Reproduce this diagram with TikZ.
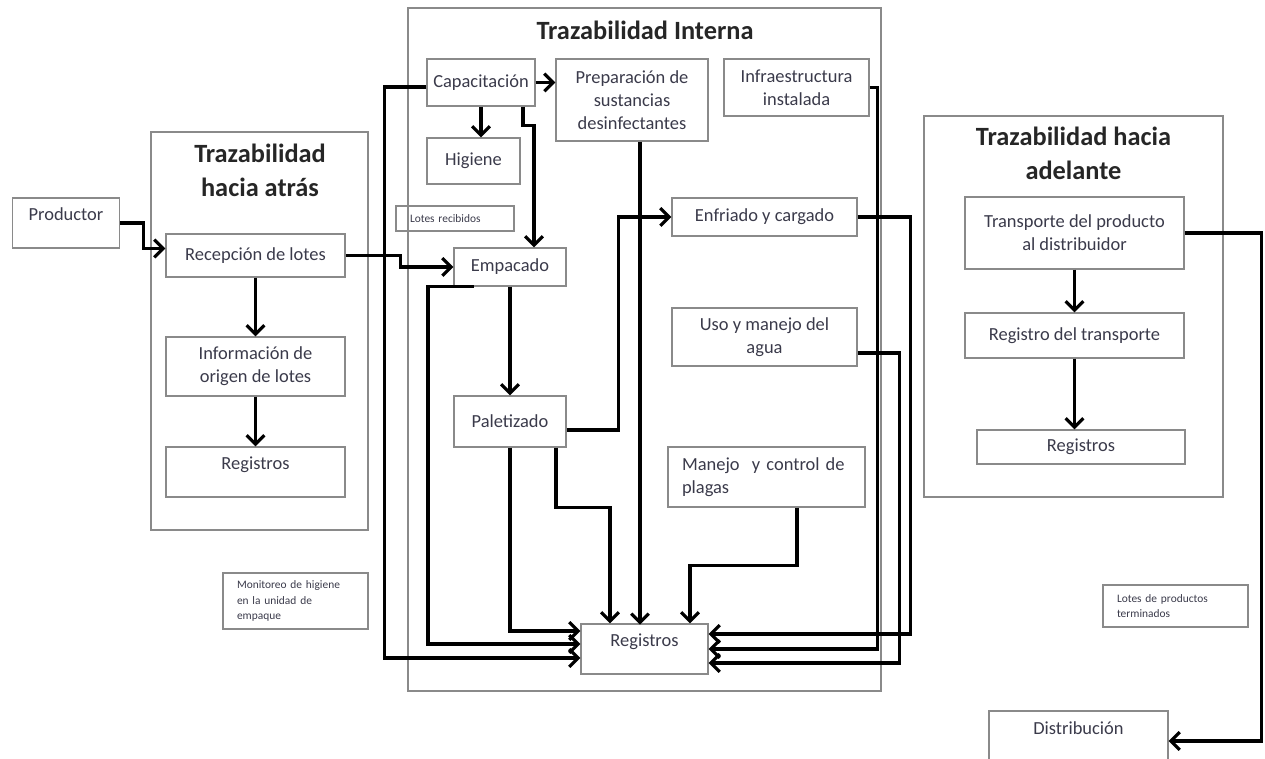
\documentclass[tikz,border=0pt]{standalone}
\usepackage{fontspec}
\setmainfont{Carlito}
\usetikzlibrary{arrows.meta,calc}
\definecolor{boxgray}{HTML}{8A8A8A}
\definecolor{txt}{HTML}{3A3A4A}

\begin{document}
\begin{tikzpicture}
  [x=0.02cm,y=-0.02cm,
   frame/.style={draw=boxgray,line width=0.9pt},
   box/.style={draw=boxgray,line width=0.8pt,text=txt,align=center,inner sep=1pt,
     font=\fontsize{10.5}{13}\selectfont},
   tiny/.style={box,align=left,inner xsep=0.28cm,font=\fontsize{6.5}{8.6}\selectfont},
   title/.style={align=center,text=black!85,font=\fontsize{15}{19}\selectfont\bfseries},
   wh/.style 2 args={minimum width=#1*0.02cm,minimum height=#2*0.02cm},
   textup/.style={text depth=#1},
   flow/.style={line width=1.8pt,-{Straight Barb[length=5pt,width=10pt]}}]
  \useasboundingbox (0,0) rectangle (1265,759);
  \clip (0,0) rectangle (1265,759);

  % hacia atras
  \node[box,wh={107}{50},textup=10pt] (prod) at (66,223) {Productor};
  \draw[frame] (151,132) rectangle (368,530);
  \node[title] (tAtras) at (260,170.5) {Trazabilidad\\hacia atrás};
  \node[box,wh={179}{43}] (recep) at (255.5,255.5) {Recepción de lotes};
  \node[box,wh={179}{59}] (info) at (255.5,366.5) {Información de\\origen de lotes};
  \node[box,wh={179}{50},textup=10pt] (regA) at (255.5,472) {Registros};
  \node[tiny,text width=2.34cm,minimum height=1.12cm] (monit) at (295.5,601) {Monitoreo de higiene\\en la unidad de\\empaque};

  % interna
  \draw[frame] (408,8) rectangle (881,691);
  \node[title] (tInterna) at (645,30) {Trazabilidad Interna};
  \node[box,wh={108}{47}] (capa) at (481,82.5) {Capacitación};
  \node[box,wh={152}{82}] (prep) at (632,100) {Preparación de\\sustancias\\desinfectantes};
  \node[box,wh={145}{57}] (infra) at (796.5,87.5) {Infraestructura\\instalada};
  \node[box,wh={93}{46}] (hig) at (473.5,161) {Higiene};
  \node[tiny,text width=1.8cm,minimum height=0.5cm] (lotesrec) at (455,218.5) {Lotes recibidos};
  \node[box,wh={112}{38}] (emp) at (510,267) {Empacado};
  \node[box,wh={185}{38}] (enf) at (764.5,217) {Enfriado y cargado};
  \node[box,wh={185}{58}] (agua) at (764.5,337) {Uso y manejo del\\agua};
  \node[box,wh={112}{51}] (palet) at (510,421.5) {Paletizado};
  \node[box,align=left,text width=3.38cm,inner xsep=0.28cm,minimum height=1.2cm] (plagas) at (766.5,477) {Manejo~ y control de\\plagas};
  \node[box,wh={127}{50},textup=10pt] (regI) at (644.5,649) {Registros};

  % hacia adelante
  \draw[frame] (924,116) rectangle (1223,497);
  \node[title] (tAdelante) at (1073.5,153.5) {Trazabilidad hacia\\adelante};
  \node[box,wh={219}{72}] (transp) at (1074.5,233) {Transporte del producto\\al distribuidor};
  \node[box,wh={219}{45}] (regT) at (1074.5,335.5) {Registro del transporte};
  \node[box,wh={208}{34}] (regF) at (1081,447) {Registros};
  \node[tiny,text width=2.34cm,minimum height=0.84cm] (lotesprod) at (1175.5,606) {Lotes de productos\\terminados};
  \node[box,wh={179}{60},textup=15pt] (dist) at (1078.5,741) {Distribución};

  % flechas
  \foreach \from/\to in {recep/info,info/regA,emp/palet,transp/regT}
    \draw[flow] (\from) -- (\to);
  \draw[flow] (regT.south) -- (regT.south |- regF.north);
  \draw[flow] (prod.east) -- ++(23,0) |- ($(recep.west)+(0,-7)$);
  \draw[flow] (recep.east) -- ++(55,0) |- (emp.west);
  \draw[flow] (capa.east) -- (capa.east -| prep.west);
  \draw[flow] (capa.south) -- (capa.south |- hig.north);
  \draw[flow] ($(capa.south)+(42,0)$) -- ++(0,19) -| ($(emp.north)+(24,0)$);
  \draw[flow] ($(capa.west)+(0,4.5)$) -- ++(-42,0) |- ($(regI.west)+(0,9)$);
  \draw[flow] ($(emp.south)+(-36,0)$) -- ++(-46,0) |- ($(regI.west)+(0,-5)$);
  \draw[flow] (palet.south) |- ($(regI.west)+(0,-18)$);
  \draw[flow] ($(palet.south)+(46,0)$) -- ++(0,60) -| ($(regI.north)+(-34.5,0)$);
  \draw[flow] ($(palet.east)+(0,8.5)$) -- ++(52,0) |- (enf.west);
  \draw[flow] ($(prep.south)+(8,0)$) -- ++(0,483);
  \draw[flow] ($(plagas.south)+(30.5,0)$) -- ++(0,58) -| ($(regI.north)+(45.5,0)$);
  \draw[flow] (infra.east) -- ++(8,0) |- (regI.east);
  \draw[flow] (enf.east) -- ++(53,0) |- ($(regI.east)+(0,-15)$);
  \draw[flow] ($(agua.east)+(0,16)$) -- ++(42,0) |- ($(regI.east)+(0,14)$);
  \draw[flow] (transp.east) -- ++(77,0) |- (dist.east);
\end{tikzpicture}
\end{document}
